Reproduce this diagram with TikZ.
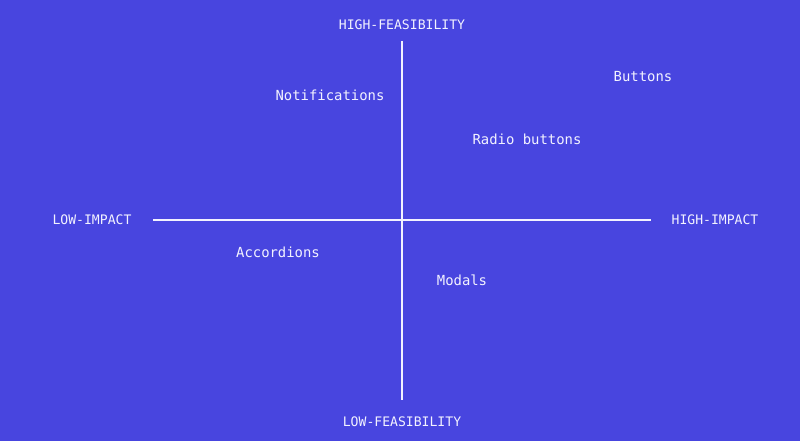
\documentclass[tikz,border=0pt]{standalone}
\usepackage{fontspec}
\setmonofont{DejaVu Sans Mono}
\usetikzlibrary{positioning}
\definecolor{qblue}{HTML}{4845DF}
\definecolor{qwhite}{HTML}{F2F2FF}
\tikzset{axislabel/.style = {text = qwhite, inner sep = 0, font = \ttfamily\fontsize{13.1}{15}\selectfont}}
\tikzset{item/.style = {text = qwhite, inner sep = 0, font = \ttfamily\fontsize{13.9}{16}\selectfont}}
\tikzset{axisline/.style = {draw = qwhite, line width = 1.4}}

\begin{document}
\begin{tikzpicture}[x=1pt, y=1pt]
      \fill [qblue] (0, 0) rectangle (800, 441);
      \useasboundingbox (0, 0) rectangle (800, 441);

      \coordinate (top) at (402, 400);
      \coordinate (bottom) at (402, 41);
      \coordinate (left) at (153, 221);
      \coordinate (right) at (651, 221);
      \draw [axisline] (top) -- (bottom);
      \draw [axisline] (left) -- (right);

      \node [axislabel] (highfeas) at (402, 416) {HIGH-FEASIBILITY};
      \node [axislabel] (lowfeas) at (402, 19) {LOW-FEASIBILITY};
      \node [axislabel] (lowimp) at (92, 221) {LOW-IMPACT};
      \node [axislabel] (highimp) at (715, 221) {HIGH-IMPACT};

      \node [item] (notif) at (330, 346) {Notifications};
      \node [item] (buttons) at (643, 364) {Buttons};
      \node [item] (radio) at (527, 302) {Radio buttons};
      \node [item] (accord) at (278, 189) {Accordions};
      \node [item] (modals) at (462, 161) {Modals};
    \end{tikzpicture}
\end{document}
